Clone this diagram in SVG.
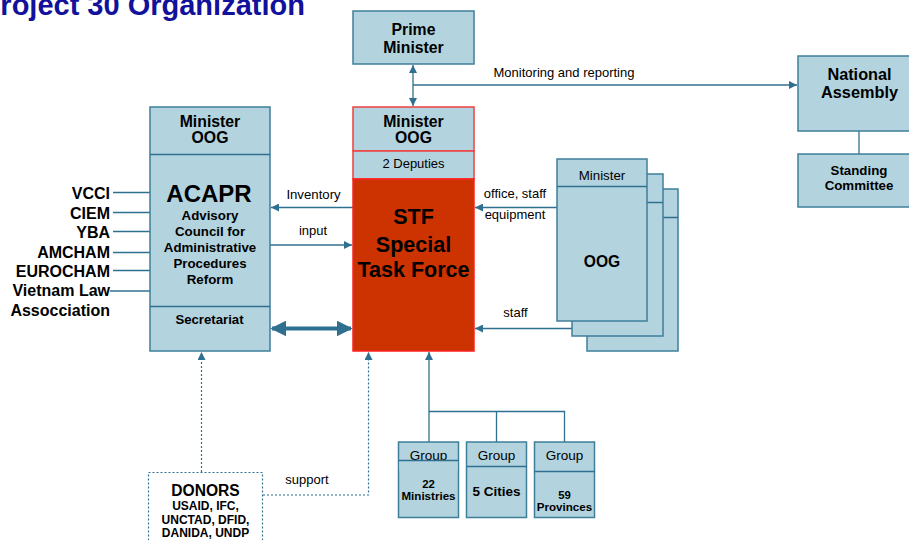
<svg xmlns="http://www.w3.org/2000/svg" width="909" height="540" viewBox="0 0 909 540">
<style>
text{font-family:"Liberation Sans",Arial,sans-serif;fill:#000}
.b{font-weight:bold}
.box{fill:#B3D3DE;stroke:#3F7F9A;stroke-width:1.5}
.rbox{fill:#B3D3DE;stroke:#F04040;stroke-width:1.5}
.ln{fill:none;stroke:#2F7090;stroke-width:1.3}
.dot{fill:none;stroke:#2F7090;stroke-width:1.2;stroke-dasharray:2,2}
.c{text-anchor:middle}
.r{text-anchor:end}
.lbl{font-size:13px}
</style>
<defs>
<marker id="ah" viewBox="0 0 10 10" refX="10" refY="5" markerWidth="8" markerHeight="8" markerUnits="userSpaceOnUse" orient="auto-start-reverse"><path d="M0,0 L10,5 L0,10 z" fill="#2F7090"/></marker>
<marker id="ahb" viewBox="0 0 10 10" refX="9" refY="5" markerWidth="4" markerHeight="4" orient="auto-start-reverse"><path d="M0,0 L10,5 L0,10 z" fill="#2F7090"/></marker>
</defs>

<text x="-19" y="15" font-size="29" class="b" style="fill:#11119C">Project 30 Organization</text>

<g id="connectors">
<line class="ln" x1="413" y1="65" x2="413" y2="106" marker-start="url(#ah)" marker-end="url(#ah)"/>
<line class="ln" x1="413" y1="85" x2="797" y2="85" marker-end="url(#ah)"/>
<line class="ln" x1="859" y1="131" x2="859" y2="154"/>
<line class="ln" x1="113" y1="192.5" x2="150" y2="192.5"/>
<line class="ln" x1="113" y1="212.5" x2="150" y2="212.5"/>
<line class="ln" x1="113" y1="231.5" x2="150" y2="231.5"/>
<line class="ln" x1="113" y1="252.5" x2="150" y2="252.5"/>
<line class="ln" x1="113" y1="270.5" x2="150" y2="270.5"/>
<line class="ln" x1="110" y1="291" x2="150" y2="291"/>
<line class="ln" x1="353" y1="207.5" x2="271" y2="207.5" marker-end="url(#ah)"/>
<line class="ln" x1="270" y1="245" x2="352" y2="245" marker-end="url(#ah)"/>
<line x1="272" y1="328.5" x2="351" y2="328.5" stroke="#2F7090" stroke-width="4" marker-start="url(#ahb)" marker-end="url(#ahb)"/>
<line class="ln" x1="557" y1="207.5" x2="475" y2="207.5" marker-end="url(#ah)"/>
<line class="ln" x1="572" y1="328.5" x2="475" y2="328.5" marker-end="url(#ah)"/>
<line class="dot" x1="201.5" y1="472" x2="201.5" y2="352" marker-end="url(#ah)"/>
<polyline class="dot" points="263,495 368.5,495 368.5,352" marker-end="url(#ah)"/>
<line class="ln" x1="429" y1="442" x2="429" y2="352" marker-end="url(#ah)"/>
<polyline class="ln" points="429,411.5 564.5,411.5 564.5,442"/>
<line class="ln" x1="496.5" y1="411.5" x2="496.5" y2="442"/>
<text x="564" y="77" class="lbl c">Monitoring and reporting</text>
<text x="313.5" y="199" font-size="13.2" class="c">Inventory</text>
<text x="313" y="235" class="lbl c">input</text>
<text x="515" y="198" class="lbl c">office, staff</text>
<text x="515" y="219" class="lbl c">equipment</text>
<text x="515.5" y="317" class="lbl c">staff</text>
<text x="307" y="484" class="lbl c">support</text>
</g>

<g id="prime-minister">
<rect class="box" x="353" y="11" width="121" height="53"/>
<text x="413.5" y="35" font-size="15.8" class="b c">Prime</text>
<text x="413.5" y="53" font-size="15.8" class="b c">Minister</text>
</g>

<g id="national-assembly">
<rect class="box" x="798" y="56" width="124" height="75"/>
<text x="859.5" y="80" font-size="16.3" class="b c">National</text>
<text x="859.5" y="98" font-size="16.3" class="b c">Assembly</text>
</g>

<g id="standing-committee">
<rect class="box" x="798" y="154" width="124" height="53"/>
<text x="859" y="175" font-size="13.3" class="b c">Standing</text>
<text x="859" y="190" font-size="13.3" class="b c">Committee</text>
</g>

<g id="acapr">
<rect class="box" x="150" y="107" width="120" height="244"/>
<line class="ln" x1="150" y1="154.5" x2="270" y2="154.5"/>
<line class="ln" x1="150" y1="306.5" x2="270" y2="306.5"/>
<text x="210" y="127" font-size="15.8" class="b c">Minister</text>
<text x="210" y="143" font-size="15.8" class="b c">OOG</text>
<text x="209" y="202" font-size="24" class="b c">ACAPR</text>
<text x="210" y="220" font-size="13.3" class="b c">Advisory</text>
<text x="210" y="236" font-size="13.3" class="b c">Council for</text>
<text x="210" y="252" font-size="13.3" class="b c">Administrative</text>
<text x="210" y="268" font-size="13.3" class="b c">Procedures</text>
<text x="210" y="284" font-size="13.3" class="b c">Reform</text>
<text x="209.5" y="324" font-size="13.2" class="b c">Secretariat</text>
</g>

<g id="acapr-members">
<text x="110" y="199" font-size="16" class="b r">VCCI</text>
<text x="110" y="219" font-size="16" class="b r">CIEM</text>
<text x="110" y="238" font-size="16" class="b r">YBA</text>
<text x="110" y="258" font-size="16" class="b r">AMCHAM</text>
<text x="110" y="277" font-size="16" class="b r">EUROCHAM</text>
<text x="110" y="296" font-size="16" class="b r">Vietnam Law</text>
<text x="110" y="316" font-size="16" class="b r">Assocciation</text>
</g>

<g id="stf">
<rect class="rbox" x="353" y="107" width="121" height="44"/>
<rect class="rbox" x="353" y="151" width="121" height="28"/>
<rect x="353" y="179" width="121" height="172" fill="#CC3300" stroke="#FF2020" stroke-width="1.5"/>
<text x="413.5" y="127" font-size="15.8" class="b c">Minister</text>
<text x="413.5" y="143" font-size="15.8" class="b c">OOG</text>
<text x="413.5" y="168" font-size="13" class="c">2 Deputies</text>
<text x="413.5" y="224" font-size="21.5" class="b c">STF</text>
<text x="413.5" y="252" font-size="21.5" class="b c">Special</text>
<text x="413.5" y="277" font-size="21.5" class="b c">Task Force</text>
</g>

<g id="oog-stack">
<rect class="box" x="587" y="189" width="91" height="162"/>
<line class="ln" x1="587" y1="217.5" x2="678" y2="217.5"/>
<rect class="box" x="572" y="174" width="91" height="162"/>
<line class="ln" x1="572" y1="202.5" x2="663" y2="202.5"/>
<rect class="box" x="557" y="159" width="90" height="162"/>
<line class="ln" x1="557" y1="186.5" x2="647" y2="186.5"/>
<text x="602" y="180" font-size="13.3" class="c">Minister</text>
<text x="602" y="267" font-size="15.6" class="b c">OOG</text>
</g>

<g id="group-ministries">
<rect class="box" x="398.5" y="442" width="60" height="75.5"/>
<text x="428.5" y="460" font-size="13.5" class="c">Group</text>
<rect x="399.3" y="461" width="58.4" height="10" fill="#B3D3DE"/>
<line class="ln" x1="398.5" y1="460.5" x2="458.5" y2="460.5"/>
<text x="428.5" y="487.5" font-size="11.4" class="b c">22</text>
<text x="428.5" y="499.5" font-size="11.6" class="b c">Ministries</text>
</g>

<g id="group-cities">
<rect class="box" x="466.5" y="442" width="60" height="75.5"/>
<line class="ln" x1="466.5" y1="466.5" x2="526.5" y2="466.5"/>
<text x="496.5" y="460" font-size="13.5" class="c">Group</text>
<text x="496.5" y="496" font-size="13.5" class="b c">5 Cities</text>
</g>

<g id="group-provinces">
<rect class="box" x="534.5" y="442" width="60" height="75.5"/>
<line class="ln" x1="534.5" y1="471.5" x2="594.5" y2="471.5"/>
<text x="564.5" y="499" font-size="11.4" class="b c">59</text>
<text x="564.5" y="511" font-size="11.6" class="b c">Provinces</text>
<text x="564.5" y="460" font-size="13.5" class="c">Group</text>
</g>

<g id="donors">
<rect class="dot" x="148.5" y="472.5" width="114" height="80" fill="#fff"/>
<text x="205.5" y="496" font-size="15.6" class="b c">DONORS</text>
<text x="205.5" y="510" font-size="12" class="b c">USAID, IFC,</text>
<text x="205.5" y="524" font-size="12" class="b c">UNCTAD, DFID,</text>
<text x="205.5" y="537" font-size="12" class="b c">DANIDA, UNDP</text>
</g>
</svg>
